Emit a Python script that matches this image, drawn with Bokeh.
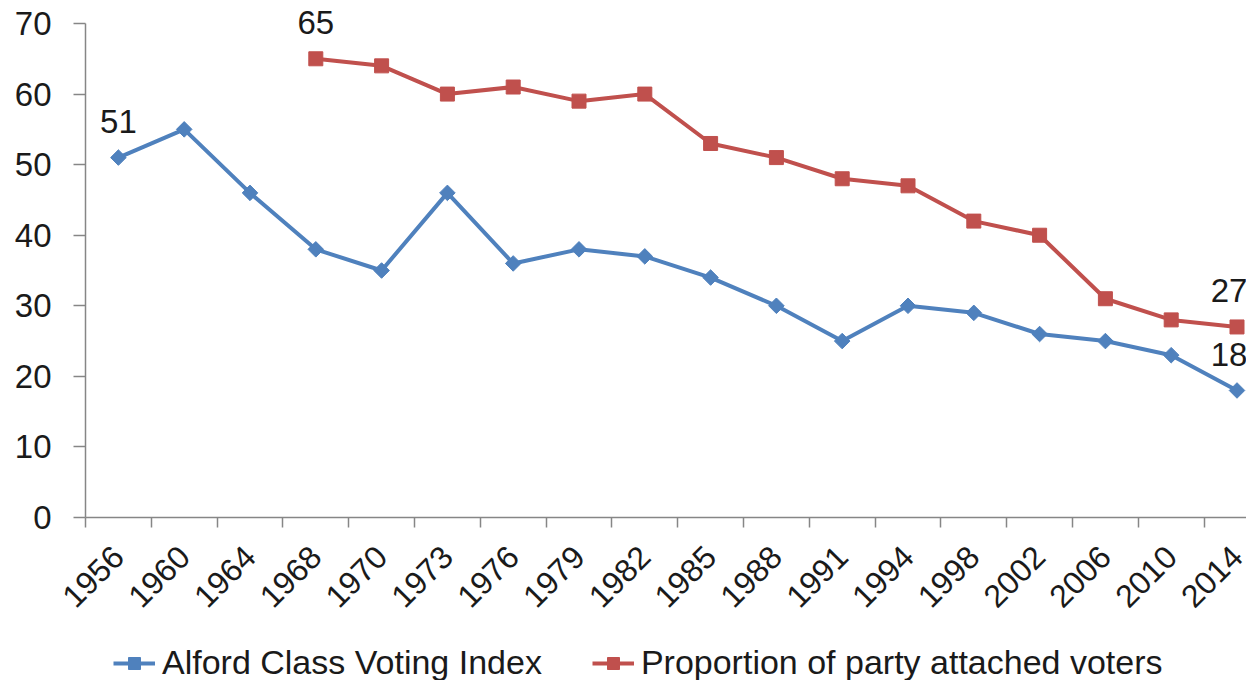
from bokeh.plotting import figure
from bokeh.models import Range1d, FixedTicker, Legend, LegendItem, Label
from bokeh.embed import file_html
from bokeh.resources import INLINE
import math

years = ["1956", "1960", "1964", "1968", "1970", "1973", "1976", "1979", "1982",
         "1985", "1988", "1991", "1994", "1998", "2002", "2006", "2010", "2014"]
alford = [51, 55, 46, 38, 35, 46, 36, 38, 37, 34, 30, 25, 30, 29, 26, 25, 23, 18]
party_years = ["1968", "1970", "1973", "1976", "1979", "1982", "1985", "1988",
               "1991", "1994", "1998", "2002", "2006", "2010", "2014"]
party = [65, 64, 60, 61, 59, 60, 53, 51, 48, 47, 42, 40, 31, 28, 27]
y_ticks = [0, 10, 20, 30, 40, 50, 60, 70]

BLUE = "#4F81BD"
RED = "#C0504D"
AXIS = "#868686"
TXT = "#1a1a1a"
FONT = "Liberation Sans"
FS = "33px"
XFS = "32px"
LFS = "34px"

xi = list(range(len(years)))
pxi = [years.index(y) for y in party_years]

PY = 7.057   # pixels per y unit
PXX = 65.8   # pixels per category
W, H = 1246, 680
p = figure(width=W, height=H, output_backend="svg", toolbar_location=None,
           x_range=Range1d(-0.5 - 85 / PXX, -0.5 + (W - 85) / PXX),
           y_range=Range1d(-(H - 517) / PY, 517 / PY),
           min_border_left=0, min_border_right=0, min_border_top=0,
           min_border_bottom=0)
p.outline_line_color = None
p.grid.visible = False

r1 = p.line(xi, alford, line_color=BLUE, line_width=4)
r1m = p.scatter(xi, alford, marker="square", angle=math.pi / 4, size=11,
                fill_color=BLUE, line_color=BLUE)
r2 = p.line(pxi, party, line_color=RED, line_width=4)
r2m = p.scatter(pxi, party, marker="square", size=14, fill_color=RED, line_color=RED)

# y axis (drawn at the left category boundary inside the frame)
p.yaxis.fixed_location = -0.5
p.yaxis.ticker = FixedTicker(ticks=y_ticks)
p.yaxis.bounds = (0, 70)
p.yaxis.axis_line_color = AXIS
p.yaxis.axis_line_width = 1.5
p.yaxis.major_tick_line_color = AXIS
p.yaxis.major_tick_line_width = 1.5
p.yaxis.major_tick_out = 12
p.yaxis.major_tick_in = 0
p.yaxis.minor_tick_line_color = None
p.yaxis.major_label_text_font = FONT
p.yaxis.major_label_text_font_size = FS
p.yaxis.major_label_text_color = TXT
p.yaxis.major_label_standoff = 22

# x axis (drawn at y = 0 inside the frame)
p.xaxis.fixed_location = 0
p.xaxis.bounds = (-0.5, 17.5)
p.xaxis.ticker = FixedTicker(ticks=xi, minor_ticks=[i - 0.5 for i in range(len(years) + 1)])
p.xaxis.major_label_overrides = {i: y for i, y in zip(xi, years)}
p.xaxis.axis_line_color = AXIS
p.xaxis.axis_line_width = 1.5
p.xaxis.major_tick_line_color = None
p.xaxis.minor_tick_line_color = AXIS
p.xaxis.minor_tick_line_width = 1.5
p.xaxis.minor_tick_out = 10
p.xaxis.minor_tick_in = 0
p.xaxis.major_label_orientation = math.pi / 4
p.xaxis.major_label_text_font = FONT
p.xaxis.major_label_text_font_size = XFS
p.xaxis.major_label_text_color = TXT
p.xaxis.major_label_standoff = 24

# data labels
off = 36 / PY
for x, y, dx in [(xi[0], alford[0], 0), (xi[-1], alford[-1], -8)]:
    p.add_layout(Label(x=x, y=y + off, x_offset=dx, text=str(y), text_align="center",
                       text_baseline="middle", text_font=FONT, text_font_size=FS,
                       text_color=TXT))
for x, y, dx in [(pxi[0], party[0], 0), (pxi[-1], party[-1], -8)]:
    p.add_layout(Label(x=x, y=y + off, x_offset=dx, text=str(y), text_align="center",
                       text_baseline="middle", text_font=FONT, text_font_size=FS,
                       text_color=TXT))

legend = Legend(items=[
    LegendItem(label="Alford Class Voting Index", renderers=[r1, r1m]),
    LegendItem(label="Proportion of party attached voters", renderers=[r2, r2m]),
], orientation="horizontal", location=(113, -2), glyph_width=42, glyph_height=30,
    label_height=30, label_standoff=7, spacing=50, padding=0, margin=0,
    label_text_font=FONT, label_text_font_size=LFS, label_text_color=TXT,
    border_line_color=None, background_fill_alpha=0)
p.add_layout(legend, "center")

open("out.html", "w").write(file_html(p, INLINE))
